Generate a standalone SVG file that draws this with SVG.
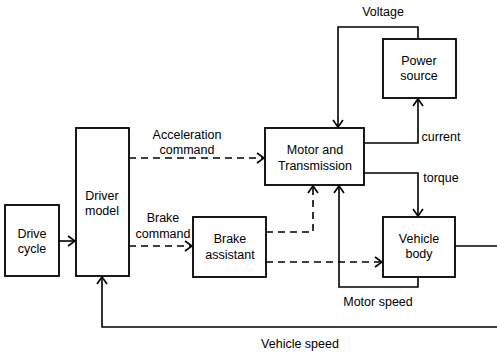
<svg xmlns="http://www.w3.org/2000/svg" width="497" height="352" viewBox="0 0 497 352">
<style>
.box{fill:#fff;stroke:#000;stroke-width:1.8}
.ln{fill:none;stroke:#000;stroke-width:1.6}
.dash{stroke-dasharray:7 5}
text{font-family:"Liberation Sans",Arial,sans-serif;font-size:12.5px;fill:#000;text-anchor:middle}
</style>
<defs>
<marker id="ah" markerWidth="12" markerHeight="12" refX="10" refY="6" orient="auto" markerUnits="userSpaceOnUse">
<polyline points="3,1 10,6 3,11" fill="none" stroke="#000" stroke-width="1.6"/>
</marker>
</defs>
<rect width="497" height="352" fill="#fff"/>
<g id="connectors">
<path class="ln" d="M59,241 H75" marker-end="url(#ah)"/>
<path class="ln dash" d="M129,158 H264" marker-end="url(#ah)"/>
<path class="ln dash" d="M129,246 H192" marker-end="url(#ah)"/>
<path class="ln" d="M418,39 V27 H338 V127" marker-end="url(#ah)"/>
<path class="ln" d="M364,143 H418 V99" marker-end="url(#ah)"/>
<path class="ln" d="M364,173 H418 V216" marker-end="url(#ah)"/>
<path class="ln dash" d="M266,232 H313 V186" marker-end="url(#ah)"/>
<path class="ln dash" d="M266,262 H382" marker-end="url(#ah)"/>
<path class="ln" d="M418,277 V287 H339 V186" marker-end="url(#ah)"/>
<path class="ln" d="M455,246 H497"/>
<path class="ln" d="M497,327 H102 V277" marker-end="url(#ah)"/>
<text x="383" y="16">Voltage</text>
<text x="187" y="139">Acceleration</text>
<text x="187" y="154">command</text>
<text x="163" y="222">Brake</text>
<text x="163" y="238">command</text>
<text x="441" y="141">current</text>
<text x="441" y="182">torque</text>
<text x="378" y="306">Motor speed</text>
<text x="300" y="348">Vehicle speed</text>
</g>
<g id="drive-cycle">
<rect class="box" x="5" y="205" width="54" height="71"/>
<text x="32" y="238">Drive</text>
<text x="32" y="253">cycle</text>
</g>
<g id="driver-model">
<rect class="box" x="76" y="128" width="53" height="148"/>
<text x="102" y="200">Driver</text>
<text x="102" y="215">model</text>
</g>
<g id="brake-assistant">
<rect class="box" x="193" y="217" width="73" height="60"/>
<text x="230" y="243">Brake</text>
<text x="230" y="259">assistant</text>
</g>
<g id="motor-transmission">
<rect class="box" x="265" y="128" width="99" height="57"/>
<text x="315" y="154">Motor and</text>
<text x="315" y="170">Transmission</text>
</g>
<g id="power-source">
<rect class="box" x="383" y="39" width="73" height="59"/>
<text x="419" y="65">Power</text>
<text x="419" y="80">source</text>
</g>
<g id="vehicle-body">
<rect class="box" x="383" y="217" width="72" height="60"/>
<text x="419" y="243">Vehicle</text>
<text x="419" y="258">body</text>
</g>
</svg>
